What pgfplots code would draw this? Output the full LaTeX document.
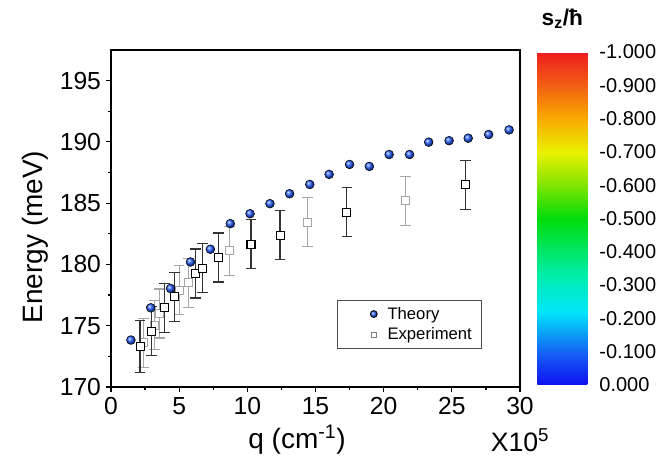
\documentclass[border=0pt]{standalone}
\usepackage{fontspec}
\setmainfont{Liberation Sans}
\usepackage{pgfplots}
\pgfplotsset{compat=1.18}
\definecolor{theoryblue}{RGB}{40,95,255}
\pgfplotsset{colormap={szmap}{rgb255(0cm)=(15,15,240) rgb255(1cm)=(20,100,245)
  rgb255(2.2cm)=(0,230,250) rgb255(3.3cm)=(0,238,170) rgb255(5cm)=(0,220,10)
  rgb255(6.1cm)=(140,230,0) rgb255(7cm)=(235,240,0) rgb255(8cm)=(250,170,0)
  rgb255(9cm)=(242,95,20) rgb255(10cm)=(238,28,30)}}

\begin{document}
\begin{tikzpicture}
\begin{axis}[
  at={(0pt,0pt)}, anchor=south west,
  scale only axis,
  width=306.75pt, height=252.75pt,
  xmin=0, xmax=30, ymin=170, ymax=197.5,
  xtick={0,5,...,30}, ytick={170,175,...,195},
  minor x tick num=1, minor y tick num=1,
  tick pos=left, tick align=outside,
  major tick length=4pt, minor tick length=2.5pt,
  axis line style={line width=1.2pt},
  every tick/.style={black, line width=0.9pt},
  ticklabel style={font=\fontsize{18.5}{20}\selectfont},
  /pgf/number format/assume math mode=true,
  clip mode=individual,
  xlabel={q (cm\textsuperscript{-1})},
  ylabel={Energy (meV)},
  label style={font=\fontsize{21}{24}\selectfont},
  xlabel style={at={(axis description cs:0.455,-0.157)}, anchor=center},
  ylabel style={at={(axis description cs:-0.186,0.445)}, anchor=center},
  colorbar,
  colorbar/width=37.5pt,
  colormap name=szmap,
  point meta min=0, point meta max=1,
  colorbar style={
    at={(parent axis.south east)}, anchor=south west,
    xshift=4.5pt, yshift=1.5pt,
    scale only axis, height=249.75pt,
    axis line style={draw=none},
    ytick={0,0.1,0.2,0.3,0.4,0.5,0.6,0.7,0.8,0.9,1},
    yticklabels={0.000,-0.100,-0.200,-0.300,-0.400,-0.500,-0.600,-0.700,-0.800,-0.900,-1.000},
    minor y tick num=0, xtick=\empty,
    major tick length=0pt,
    yticklabel pos=right,
    yticklabel style={font=\fontsize{15}{17}\selectfont, xshift=5.5pt},
    title={s\textsubscript{z}/ħ},
    title style={font=\bfseries\fontsize{17}{19}\selectfont, at={(0.5,1)}, anchor=south, yshift=8pt},
  },
  legend style={at={(0.906,0.113)}, anchor=south east,
    font=\fontsize{12.5}{14}\selectfont, draw=black!70, line width=0.6pt,
    inner xsep=5pt, inner ysep=3pt, row sep=1pt},
  legend cell align=left,
  legend image code/.code={\path (-6pt,0pt) (24pt,0pt);
    \draw[#1] plot coordinates {(16pt,0pt)};},
]
\addlegendimage{only marks, mark=ball, ball color=theoryblue, mark size=2.6pt}
\addlegendentry{Theory}
\addlegendimage{only marks, mark=square, gray, mark size=2pt}
\addlegendentry{Experiment}

% faded experimental points
\addplot[forget plot, only marks, mark=square*, mark size=3pt,
  mark options={fill=white, draw=black!35, line width=0.8pt},
  error bars/.cd, y dir=both, y explicit,
  error bar style={line width=0.9pt, black!35},
  error mark options={rotate=90, mark size=4pt, line width=0.9pt, black!35}]
  coordinates {(2.37,173.6) +- (0,2) (3.18,175.05) +- (0,2) (3.55,176.0) +- (0,2)
  (5.0,177.9) +- (0,2) (5.67,178.5) +- (0,2) (8.68,181.1) +- (0,2)
  (14.4,183.46) +- (0,2) (21.6,185.2) +- (0,2)};

% experimental points
\addplot[forget plot, only marks, mark=square*, mark size=3pt,
  mark options={fill=white, draw=black, line width=0.8pt},
  error bars/.cd, y dir=both, y explicit,
  error bar style={line width=0.9pt, black!80},
  error mark options={rotate=90, mark size=4pt, line width=0.9pt, black!80}]
  coordinates {(2.13,173.3) +- (0,2.1) (2.98,174.56) +- (0,2) (3.91,176.46) +- (0,2)
  (4.65,177.35) +- (0,2) (6.2,179.26) +- (0,2) (6.7,179.7) +- (0,2)
  (7.87,180.56) +- (0,2) (10.27,181.64) +- (0,2) (12.4,182.4) +- (0,2)
  (17.3,184.25) +- (0,2) (26.0,186.5) +- (0,2)};

% theory
\addplot[forget plot, only marks, mark=ball, ball color=theoryblue, mark size=3.3pt]
  coordinates {(1.46,173.83) (2.92,176.46) (4.37,178.04) (5.83,180.2) (7.29,181.24)
  (8.75,183.33) (10.2,184.14) (11.66,184.96) (13.1,185.77) (14.58,186.53)
  (16.0,187.35) (17.5,188.16) (18.95,188.0) (20.4,188.97) (21.9,188.97)
  (23.3,189.98) (24.8,190.1) (26.2,190.3) (27.7,190.6) (29.2,190.98)};

\draw[line width=1.2pt] (rel axis cs:0,0) rectangle (rel axis cs:1,1);
\node[font=\fontsize{20}{22}\selectfont] at (rel axis cs:1.0,-0.157) {X10\textsuperscript{5}};
\end{axis}
\pgfresetboundingbox
\useasboundingbox (-83.25pt,-54pt) rectangle (409.5pt,290.25pt);
\end{tikzpicture}
\end{document}
